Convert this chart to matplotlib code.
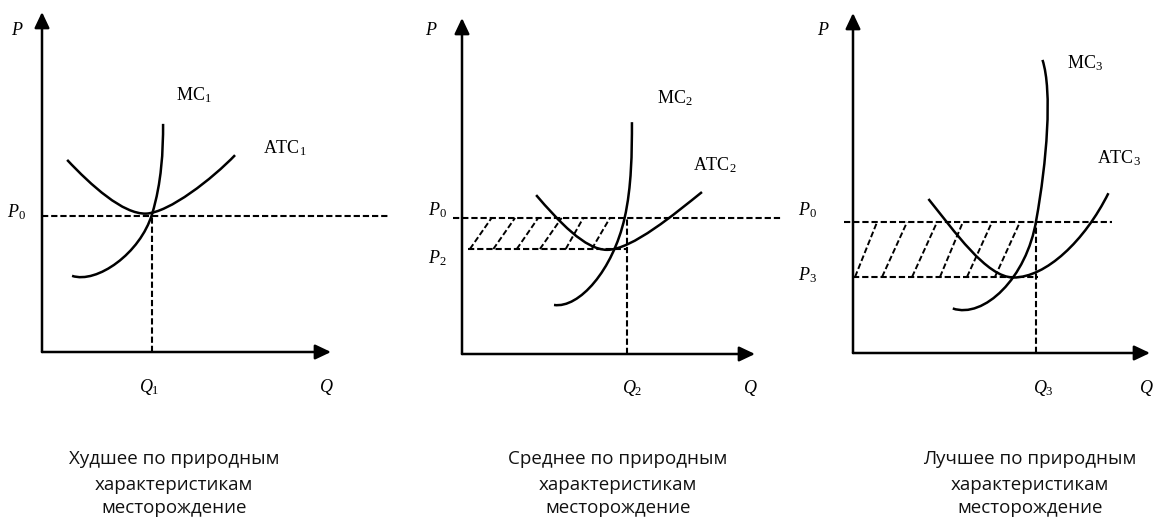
import matplotlib.pyplot as plt
from matplotlib.path import Path
from matplotlib.patches import PathPatch

plt.rcParams['mathtext.fontset'] = 'custom'
plt.rcParams['mathtext.rm'] = 'Liberation Serif'
plt.rcParams['mathtext.it'] = 'Liberation Serif:italic'

W, H = 1157, 518

# axes boxes in pixels: origin x, origin y, arrow tip x, arrow tip y
boxes = [(42, 352, 331, 12), (462, 354, 755, 18), (853, 353, 1150, 13)]

# curves as cubic Bezier control points (Q, P), both axes run 0..10
mc_curves = [
    [(1.04, 2.24), (1.9, 2.0), (3.4, 2.9), (3.81, 4.06), (4.14, 4.99), (4.19, 5.9), (4.19, 6.71)],
    [(3.14, 1.46), (4.0, 1.35), (5.15, 2.5), (5.55, 4.05), (5.79, 4.98), (5.80, 6.0), (5.80, 6.90)],
    [(3.36, 1.31), (4.4, 1.0), (5.85, 2.2), (6.17, 3.91), (6.52, 5.6), (6.72, 7.7), (6.38, 8.62)],
]
atc_curves = [
    [(0.87, 5.65), (1.7, 4.9), (2.8, 4.05), (3.6, 4.07), (4.4, 4.1), (5.9, 5.1), (6.68, 5.79)],
    [(2.53, 4.73), (3.3, 3.95), (4.2, 3.1), (4.95, 3.10), (5.8, 3.1), (7.3, 4.2), (8.19, 4.82)],
    [(2.54, 4.53), (3.4, 3.6), (4.5, 2.22), (5.4, 2.22), (6.5, 2.22), (7.8, 3.3), (8.60, 4.70)],
]

# price / quantity levels
p0 = [4.0, 4.05, 3.85]
p0_span = [(0, 12.04), (-0.31, 10.96), (-0.30, 8.72)]
q_star = [3.81, 5.63, 6.16]
p_low = [None, 3.125, 2.24]
p_low_span = [None, (0.2, 5.63), (0, 6.23)]

# hatch strokes: x at bottom (p_low) and at top (p0)
hatch_bottom = [[], [0.27, 1.07, 1.87, 2.66, 3.54, 4.43], [0.07, 0.98, 1.99, 2.93, 3.84, 4.78]]
hatch_top = [[], [1.01, 1.81, 2.60, 3.40, 4.14, 5.05], [0.81, 1.82, 2.83, 3.70, 4.68, 5.62]]

# labels
idx = ['1', '2', '3']
p_label = [(-0.87, 9.32), (-1.06, 9.49), (-0.99, 9.35)]
p0_label = [(-0.88, 3.97), (-0.85, 4.14), (-1.52, 4.06)]
plow_label = [None, (-0.85, 2.71), (-1.52, 2.15)]
plow_text = [None, '$P_2$', '$P_3$']
q_label = [(3.70, -1.18), (5.80, -1.16), (6.40, -1.18)]
qaxis_label = [(9.83, -1.18), (9.83, -1.16), (9.87, -1.18)]
mc_label = [(4.64, 7.41), (6.64, 7.47), (7.19, 8.38)]
atc_label = [(7.65, 5.85), (7.88, 5.48), (8.20, 5.59)]

captions = [
    ["Худшее по природным", "характеристикам", "месторождение"],
    ["Среднее по природным", "характеристикам", "месторождение"],
    ["Лучшее по природным", "характеристикам", "месторождение"],
]
caption_x = [174, 618, 1030]
caption_base = [464, 490, 513]

dash = (0, (3, 1.4))
lab_fs = 13


def bezier(ax, pts):
    codes = [Path.MOVETO] + [Path.CURVE4] * (len(pts) - 1)
    ax.add_patch(PathPatch(Path(pts, codes), fill=False, lw=1.8,
                           edgecolor='black', clip_on=False))


fig = plt.figure(figsize=(W / 100, H / 100), dpi=100)

for i, (ox, oy, tx, ty) in enumerate(boxes):
    ax = fig.add_axes([ox / W, (H - oy) / H, (tx - ox) / W, (oy - ty) / H])
    ax.set_xlim(0, 10)
    ax.set_ylim(0, 10)
    ax.set_axis_off()

    arrow = dict(arrowstyle='-|>,head_length=0.95,head_width=0.45', lw=1.8,
                 color='black', shrinkA=0, shrinkB=0, mutation_scale=10)
    ax.annotate('', xy=(0, 10), xytext=(0, 0), arrowprops=arrow, annotation_clip=False)
    ax.annotate('', xy=(10, 0), xytext=(0, 0), arrowprops=arrow, annotation_clip=False)

    # dashed guides
    ax.plot(p0_span[i], [p0[i], p0[i]], color='black', lw=1.5, ls=dash, clip_on=False)
    ax.plot([q_star[i], q_star[i]], [0, p0[i]], color='black', lw=1.5, ls=dash, clip_on=False)
    if p_low[i] is not None:
        ax.plot(p_low_span[i], [p_low[i], p_low[i]], color='black', lw=1.5, ls=dash, clip_on=False)
        for xb, xt in zip(hatch_bottom[i], hatch_top[i]):
            ax.plot([xb, xt], [p_low[i], p0[i]], color='black', lw=1.4, ls=dash, clip_on=False)

    bezier(ax, mc_curves[i])
    bezier(ax, atc_curves[i])

    txt = dict(fontsize=lab_fs, va='baseline', clip_on=False, family='Liberation Serif')
    ax.text(*p_label[i], '$P$', ha='center', **txt)
    ax.text(*p0_label[i], '$P_0$', ha='center', **txt)
    if plow_label[i] is not None:
        ax.text(*plow_label[i], plow_text[i], ha='center', **txt)
    ax.text(*q_label[i], '$Q_%s$' % idx[i], ha='center', **txt)
    ax.text(*qaxis_label[i], '$Q$', ha='center', **txt)
    ax.text(*mc_label[i], r'$\mathrm{MC}_%s$' % idx[i], ha='left', **txt)
    ax.text(*atc_label[i], r'$\mathrm{ATC}_%s$' % idx[i], ha='left', **txt)

for cx, lines in zip(caption_x, captions):
    for base, line in zip(caption_base, lines):
        fig.text(cx / W, (H - base) / H, line, ha='center', va='baseline',
                 fontsize=13.5, family='Open Sans', color='#111111')

fig.savefig('out.png', dpi=100)
